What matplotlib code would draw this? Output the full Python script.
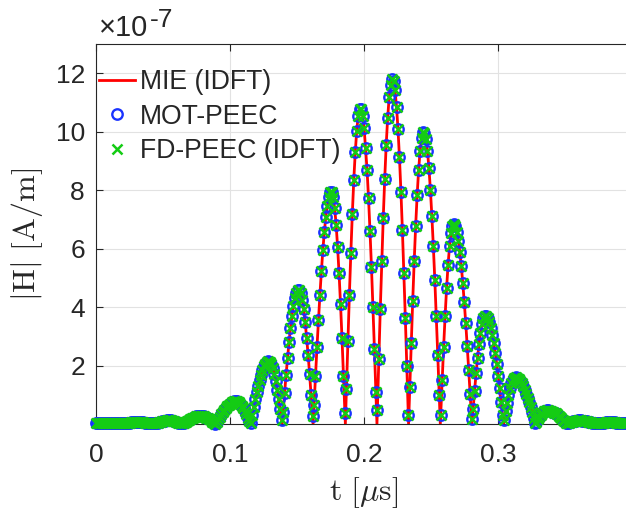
import numpy as np
import matplotlib
matplotlib.use("Agg")
import matplotlib.pyplot as plt

# ---------------- data (|H| in units of 1e-7 A/m, t in microseconds) ----------------
dt = 0.0011  # sample spacing of the time-domain results [us]

h_mie_samples = [
    0.02, 0.02, 0.02, 0.02, 0.02, 0.02, 0.02, 0.02, 0.02, 0.02,
    0.02, 0.02, 0.03, 0.03, 0.03, 0.03, 0.03, 0.02, 0.02, 0.02,
    0.02, 0.03, 0.04, 0.05, 0.06, 0.07, 0.07, 0.08, 0.08, 0.08,
    0.08, 0.07, 0.06, 0.05, 0.04, 0.03, 0.02, 0.02, 0.02, 0.02,
    0.03, 0.04, 0.05, 0.07, 0.08, 0.09, 0.10, 0.11, 0.12, 0.12,
    0.12, 0.12, 0.11, 0.10, 0.08, 0.07, 0.05, 0.04, 0.03, 0.02,
    0.02, 0.06, 0.10, 0.13, 0.17, 0.20, 0.22, 0.25, 0.26, 0.27,
    0.28, 0.28, 0.27, 0.26, 0.24, 0.22, 0.19, 0.16, 0.12, 0.08,
    0.04, 0.01, 0.08, 0.17, 0.25, 0.33, 0.41, 0.48, 0.55, 0.61,
    0.66, 0.70, 0.74, 0.76, 0.78, 0.78, 0.77, 0.74, 0.69, 0.62,
    0.54, 0.45, 0.34, 0.22, 0.10, 0.05, 0.32, 0.58, 0.84, 1.08,
    1.31, 1.51, 1.69, 1.85, 1.97, 2.06, 2.12, 2.15, 2.13, 2.06,
    1.92, 1.72, 1.47, 1.18, 0.85, 0.50, 0.14, 0.41, 1.05, 1.67,
    2.25, 2.79, 3.27, 3.69, 4.04, 4.31, 4.49, 4.59, 4.59, 4.47,
    4.25, 3.92, 3.49, 2.95, 2.37, 1.71, 1.00, 0.27, 0.64, 1.64,
    2.62, 3.55, 4.42, 5.22, 5.95, 6.57, 7.08, 7.47, 7.76, 7.92,
    7.94, 7.78, 7.39, 6.82, 6.06, 5.15, 4.10, 2.93, 1.65, 0.36,
    1.20, 2.85, 4.42, 5.86, 7.19, 8.35, 9.30, 10.04, 10.53, 10.77,
    10.77, 10.55, 10.13, 9.44, 8.70, 7.73, 6.60, 5.37, 4.01, 2.57,
    1.10, 0.48, 2.24, 3.95, 5.56, 7.06, 8.39, 9.55, 10.48, 11.17,
    11.61, 11.80, 11.72, 11.41, 10.86, 10.09, 9.12, 7.95, 6.63, 5.17,
    3.61, 1.97, 0.32, 1.25, 2.77, 4.21, 5.56, 6.78, 7.82, 8.68,
    9.34, 9.78, 9.98, 9.96, 9.74, 9.34, 8.76, 8.02, 7.11, 6.08,
    4.93, 3.68, 2.37, 1.00, 0.32, 1.51, 2.65, 3.70, 4.65, 5.45,
    6.08, 6.54, 6.79, 6.84, 6.76, 6.57, 6.27, 5.88, 5.39, 4.81,
    4.16, 3.45, 2.67, 1.86, 1.02, 0.16, 0.52, 1.14, 1.73, 2.27,
    2.73, 3.12, 3.42, 3.61, 3.70, 3.68, 3.61, 3.48, 3.29, 3.06,
    2.76, 2.43, 2.06, 1.65, 1.22, 0.76, 0.30, 0.12, 0.43, 0.72,
    0.99, 1.22, 1.40, 1.52, 1.59, 1.60, 1.58, 1.54, 1.48, 1.39,
    1.29, 1.18, 1.04, 0.90, 0.74, 0.57, 0.40, 0.22, 0.03, 0.08,
    0.17, 0.25, 0.32, 0.38, 0.43, 0.46, 0.47, 0.47, 0.46, 0.44,
    0.42, 0.39, 0.36, 0.33, 0.29, 0.24, 0.19, 0.14, 0.09, 0.05,
    0.03, 0.04, 0.06, 0.08, 0.09, 0.10, 0.11, 0.12, 0.12, 0.12,
    0.11, 0.11, 0.10, 0.09, 0.08, 0.07, 0.06, 0.05, 0.05, 0.04,
    0.04, 0.04, 0.04, 0.05, 0.05, 0.05, 0.06, 0.06, 0.06, 0.06,
    0.06, 0.06, 0.06, 0.05, 0.05, 0.05, 0.05, 0.04, 0.04, 0.04, 0.04,
]
# extra points of the MIE curve where it touches zero between lobes
t_mie_zeros = [0.1153, 0.1390, 0.1621, 0.1862, 0.2098, 0.2334, 0.2571,
               0.2807, 0.3043, 0.3280]
h_mie_zeros = [0.0] * len(t_mie_zeros)

h_mot = list(h_mie_samples)   # MOT-PEEC, coincides with MIE
h_fd = list(h_mie_samples)    # FD-PEEC (IDFT), coincides with MIE

x_ticks = [0, 0.1, 0.2, 0.3]
x_ticklabels = ["0", "0.1", "0.2", "0.3"]
y_ticks = [2, 4, 6, 8, 10, 12]
y_ticklabels = ["2", "4", "6", "8", "10", "12"]
legend_labels = ["MIE (IDFT)", "MOT-PEEC", "FD-PEEC (IDFT)"]

# ---------------- figure ----------------
plt.rcParams['font.family'] = ['Liberation Sans', 'DejaVu Sans']
W, H = 626, 513
fig = plt.figure(figsize=(W / 100, H / 100), dpi=100)
ax = fig.add_axes([96 / W, 89 / H, 535 / W, 380 / H])

t_s = np.arange(len(h_mie_samples)) * dt
t_line = np.concatenate([t_s, t_mie_zeros])
h_line = np.concatenate([h_mie_samples, h_mie_zeros])
order = np.argsort(t_line, kind="stable")

l1, = ax.plot(t_line[order], h_line[order], color='#ff0000', lw=2.0, zorder=2)
l2, = ax.plot(t_s, h_mot, linestyle='none', marker='o', mfc='none', mec='#1a33ff',
              ms=7.5, mew=1.7, zorder=3, clip_on=False)
l3, = ax.plot(t_s, h_fd, linestyle='none', marker='x', color='#14cc14',
              ms=6.5, mew=1.8, zorder=4, clip_on=False)

ax.set_xlim(0, 0.3995)
ax.set_ylim(0, 13)
ax.set_xticks(x_ticks)
ax.set_xticklabels(x_ticklabels)
ax.set_yticks(y_ticks)
ax.set_yticklabels(y_ticklabels)

ax.grid(True, color='#e2e2e2', lw=0.8)
ax.set_axisbelow(True)
for side in ['left', 'bottom', 'top']:
    ax.spines[side].set_color('#262626')
    ax.spines[side].set_linewidth(0.8)
ax.spines['right'].set_visible(False)

ax.tick_params(axis='both', direction='in', length=5, width=0.8, colors='#262626',
               labelsize=19, top=True, right=False)
ax.tick_params(axis='x', pad=14)
ax.tick_params(axis='y', pad=8)

ax.set_xlabel(r'$\mathrm{t}\ [\mu\mathrm{s}]$', fontsize=23, math_fontfamily='cm',
              color='#262626')
ax.xaxis.set_label_coords(0.5, -0.135)
ax.set_ylabel(r'$|\mathrm{H}|\ [\mathrm{A/m}]$', fontsize=23, math_fontfamily='cm',
              color='#262626')
ax.yaxis.set_label_coords(-0.095, 0.5)

fig.text(99 / W, 1 - 36 / H, '\u00d710', fontsize=21, color='#262626', va='baseline')
fig.text(150 / W, 1 - 27 / H, '-7', fontsize=19, color='#262626', va='baseline')

leg = ax.legend([l1, l2, l3], legend_labels, loc='upper left',
                bbox_to_anchor=(99 / W, 1 - 69 / H), bbox_transform=fig.transFigure,
                frameon=False, fontsize=19.2, handlelength=1.35, handletextpad=0.2,
                labelspacing=0.32, borderpad=0, borderaxespad=0, numpoints=1)
for txt in leg.get_texts():
    txt.set_color('#262626')

fig.savefig('out.png', dpi=100)
